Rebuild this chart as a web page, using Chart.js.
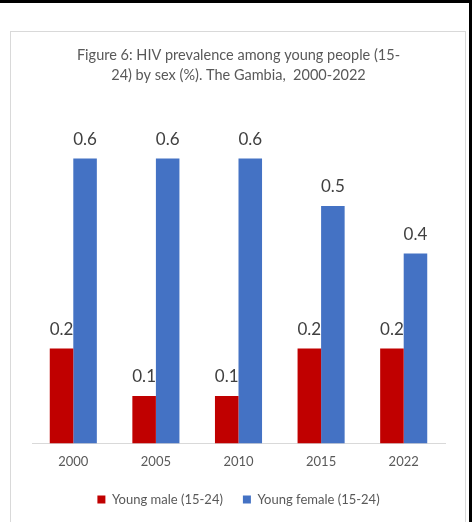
<!DOCTYPE html>
<html>
<head>
<meta charset="utf-8">
<script src="https://cdn.jsdelivr.net/npm/chart.js@4"></script>
<style>
  html, body { margin: 0; padding: 0; background: #fff; }
  #frame {
    position: absolute; left: 0; top: 0; width: 472px; height: 522px;
    box-sizing: border-box; border-top: 3px solid #000; border-right: 3px solid #000;
  }
  #box {
    position: absolute; left: 10px; top: 31px; width: 456px; height: 500px;
    box-sizing: border-box; border: 1px solid #d9d9d9;
  }
  #wrap { position: absolute; left: 11px; top: 32px; width: 454px; height: 490px; }
</style>
</head>
<body>
<div id="frame"></div>
<div id="box"></div>
<div id="wrap"><canvas id="chart"></canvas></div>
<script>
// anos e prevalência (%) por sexo
const anos = ["2000", "2005", "2010", "2015", "2022"];
const homens = [0.2, 0.1, 0.1, 0.2, 0.2];
const mulheres = [0.6, 0.6, 0.6, 0.5, 0.4];
const titulo = ["Figure 6: HIV prevalence among young people (15-", "24) by sex (%). The Gambia,  2000-2022"];

// Rótulos de valor acima das barras
const rotulos = {
  id: "rotulos",
  afterDatasetsDraw(chart) {
    const ctx = chart.ctx;
    ctx.save();
    ctx.font = "17px Lato";
    ctx.fillStyle = "#404040";
    ctx.textAlign = "center";
    ctx.textBaseline = "middle";
    chart.data.datasets.forEach((ds, i) => {
      chart.getDatasetMeta(i).data.forEach((bar, j) => {
        ctx.fillText(ds.data[j].toFixed(1), bar.x, bar.y - 19);
      });
    });
    ctx.restore();
  }
};

const chartElement = document.getElementById("chart");
new Chart(chartElement, {
  type: "bar",
  data: {
    labels: anos,
    datasets: [
      { label: "Young male (15-24)", data: homens, backgroundColor: "#C00000" },
      { label: "Young female (15-24)", data: mulheres, backgroundColor: "#4472C4" },
    ],
  },
  options: {
    responsive: true,
    maintainAspectRatio: false,
    animation: false,
    barPercentage: 1,
    categoryPercentage: 0.57,
    layout: { padding: { left: 21, right: 20, top: 0, bottom: 6 } },
    plugins: {
      title: {
        display: true,
        text: titulo,
        color: "#595959",
        font: { family: "Lato", size: 14.5, weight: "normal", lineHeight: 1.38 },
        padding: { top: 13, bottom: 26 },
      },
      legend: {
        position: "bottom",
        labels: {
          color: "#595959",
          font: { family: "Lato", size: 13 },
          boxWidth: 8,
          boxHeight: 8,
          padding: 20,
        },
      },
      tooltip: { enabled: false },
    },
    scales: {
      y: { display: false, min: 0, max: 0.7 },
      x: {
        grid: { display: false },
        border: { display: true, color: "#d9d9d9" },
        ticks: { color: "#595959", font: { family: "Lato", size: 13 }, padding: 3 },
      },
    },
  },
  plugins: [rotulos],
});
</script>
</body>
</html>
